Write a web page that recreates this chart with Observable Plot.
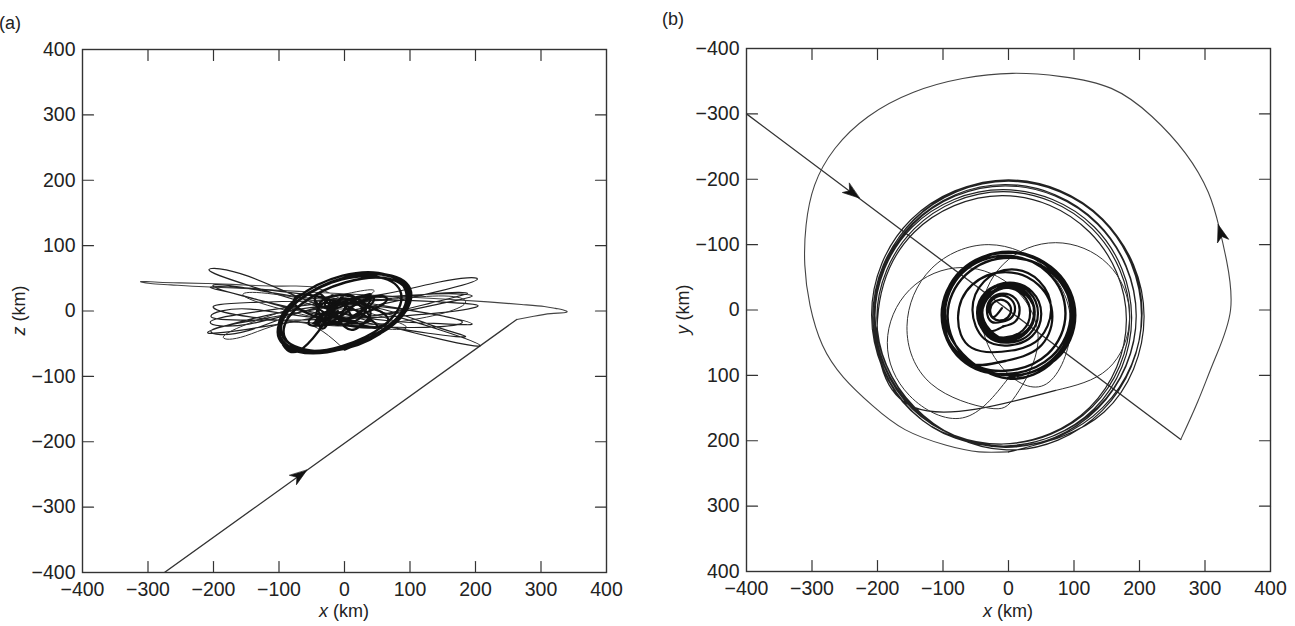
<!DOCTYPE html>
<html><head><meta charset="utf-8">
<script src="https://cdn.jsdelivr.net/npm/d3@7"></script>
<script src="https://cdn.jsdelivr.net/npm/@observablehq/plot@0.6"></script>
<style>
body{margin:0;background:#fff;font-family:"Liberation Sans",Arial,sans-serif;}
#wrap{position:relative;width:1295px;height:626px;overflow:hidden;}
.panel{position:absolute;top:0;}
</style></head><body>
<div id="wrap"><div class="panel" id="pa" style="left:0"></div><div class="panel" id="pb" style="left:640px"></div></div>
<script>
// ---- tick labels ----
const tickValues = [-400, -300, -200, -100, 0, 100, 200, 300, 400];
const innerTicks = [-300, -200, -100, 0, 100, 200, 300];

// ---- trajectory: [x, y, z] in km ----
const approach = [[-400,-300,-490],[263,198,-13]];
const bigArc = [[263,198,-13],[289,140,-8],[315,75,-4],[339,0,-2],[333,-75,2],[322,-125,4],[305,-180,7],[270,-240,10],[219,-296,14],[157,-339,18],[81,-357,22],[6,-362,26],[-70,-354,30],[-145,-333,34],[-214,-296,37],[-265,-247,40],[-296,-191,42],[-309,-130,44],[-311,-69,45],[-303,-7,45],[-284,54,44],[-252,103,43],[-208,146,42],[-158,183,40],[-95,207,38],[-45,217,36]];
const outerLoops = [
 [0,217,15],[146,156,-29],[207,10,-53],[146,-136,-43],[0,-197,-5],[-146,-136,39],[-207,10,63],[-146,156,53],
 [-5,208,-2],[136,149,-19],[195,8,-20],[136,-133,-5],[-5,-192,18],[-146,-133,35],[-205,8,36],[-146,149,21],
 [-5,210,-9],[136,151,9],[195,10,23],[136,-131,26],[-5,-190,15],[-146,-131,-3],[-205,10,-17],[-146,151,-20],
 [0,209,12],[144,149,14],[204,5,8],[144,-139,-3],[0,-199,-12],[-144,-139,-14],[-204,5,-8],[-144,149,3],
 [-8,208,-12],[131,151,12],[188,12,27],[131,-127,26],[-8,-184,8],[-147,-127,-16],[-204,12,-31],[-147,151,-30],
 [-8,205,10],[128,148,-20],[185,12,-39],[128,-124,-34],[-8,-181,-10],[-144,-124,20],[-201,12,39],[-144,148,34],
 [-3,214,18],[143,154,44],[203,8,49],[143,-138,30],[-3,-198,-2],[-149,-138,-28],[-209,8,-33],[-149,154,-14],
 [-10,205,9],[124,149,-3],[180,15,-17],[124,-119,-25],[-10,-175,-21],[-144,-119,-9],[-200,15,5],[-144,149,13]
];
const transLoops = [
 [72,123,18],[152,90,23],[185,10,14],[152,-70,-3],[72,-103,-18],[-8,-70,-23],[-41,10,-14],[-8,90,3],
 [58,113,-9],[95,25,-25],[58,-63,-27],[-30,-100,-13],[-118,-63,9],[-155,25,25],[-118,113,27],[-30,150,13],
 [11,131,11],[45,50,30],[11,-31,28],[-70,-65,7],[-151,-31,-21],[-185,50,-40],[-151,131,-38],[-70,165,-17]
];
const midRing = [
 [0,104,-59],[72,76,-23],[102,8,24],[72,-60,54],[0,-88,51],[-72,-60,15],[-102,8,-32],[-72,76,-62],
 [-3,98,-58],[66,71,-24],[95,5,22],[66,-61,55],[-3,-88,54],[-72,-61,20],[-101,5,-26],[-72,71,-59],
 [2,100,-54],[69,74,-21],[97,10,22],[69,-54,49],[2,-80,44],[-65,-54,11],[-93,10,-32],[-65,74,-59],
 [-5,93,-54],[60,67,-22],[87,5,21],[60,-57,50],[-5,-83,48],[-70,-57,16],[-97,5,-27],[-70,67,-56],
 [0,105,-58],[70,77,-23],[99,8,23],[70,-61,53],[0,-89,50],[-70,-61,16],[-99,8,-31],[-70,77,-61]
];
const innerLoops = [
 [-5,78,20],[46,58,4],[67,10,-14],[46,-38,-25],[-5,-58,-20],[-56,-38,-4],[-77,10,14],[-56,58,25],
 [5,62,12],[47,44,22],[65,0,18],[47,-44,4],[5,-62,-12],[-37,-44,-22],[-55,0,-18],[-37,44,-4],
 [2,54,-12],[36,40,-24],[50,6,-24],[36,-28,-10],[2,-42,8],[-32,-28,20],[-46,6,20],[-32,40,6],
 [0,50,14],[32,37,22],[45,5,18],[32,-27,3],[0,-40,-14],[-32,-27,-22],[-45,5,-18],[-32,37,-3],
 [-4,48,7],[27,35,22],[40,4,25],[27,-27,15],[-4,-40,-1],[-35,-27,-16],[-48,4,-19],[-35,35,-9],
 [-3,45,19],[27,33,5],[39,3,-11],[27,-27,-19],[-3,-39,-15],[-33,-27,-1],[-45,3,15],[-33,33,23],
 [0,43,-24],[28,31,-20],[40,3,-4],[28,-25,14],[0,-37,24],[-28,-25,20],[-40,3,4],[-28,31,-14],
 [0,46,-14],[28,34,3],[40,6,18],[28,-22,23],[0,-34,14],[-28,-22,-3],[-40,6,-18],[-28,34,-23],
 [-5,42,21],[22,31,17],[33,4,4],[22,-23,-12],[-5,-34,-21],[-32,-23,-17],[-43,4,-4],[-32,31,12]
];
const coreLoops = [
 [-8,25,10],[10,18,18],[17,0,15],[10,-18,4],[-8,-25,-10],[-26,-18,-18],[-33,0,-15],[-26,18,-4],
 [-10,18,14],[4,12,3],[10,-2,-8],[4,-16,-14],[-10,-22,-10],[-24,-16,1],[-30,-2,12],[-24,12,18],
 [-12,16,-8],[-1,11,2],[4,0,11],[-1,-11,13],[-12,-16,8],[-23,-11,-2],[-28,0,-11],[-23,11,-13],
 [-10,-3,0]
];
// arrowheads: position and heading
const arrowsXZ = [{x: -68, v: -251, dx: 1, dv: 0.72}];
const arrowsXY = [{x: -238, v: -179, dx: 1, dv: 0.75}, {x: 324, v: -118, dx: -0.3, dv: -1}];

const pieces = [
  {pts: approach, curve: "linear", w: 1.3, c: "#333"},
  {pts: bigArc, curve: "natural", w: 1.1, c: "#444"},
  {pts: outerLoops, curve: "natural", w: 1.2, c: "#222"},
  {pts: transLoops, curve: "natural", w: 1.0, c: "#333"},
  {pts: midRing, curve: "natural", w: 2.4, c: "#111"},
  {pts: innerLoops, curve: "natural", w: 2.2, c: "#111"},
  {pts: coreLoops, curve: "natural", w: 2.2, c: "#111"}
];
// each piece (after the arc) ends at the first point of the next one
const segments = pieces.map((p, i) => {
  const next = pieces[i + 1];
  const pts = (i >= 1 && next) ? [...p.pts, next.pts[0]] : p.pts;
  return {...p, pts};
});

const tickShape = {draw(ctx, l) { ctx.moveTo(0, 0); ctx.lineTo(0, -l); }};
const stealth = {draw(ctx, l) {
  ctx.moveTo(0, -l); ctx.lineTo(l * 0.34, 0); ctx.lineTo(0, -l * 0.28); ctx.lineTo(-l * 0.34, 0); ctx.closePath();
}};

function panel({el, width, ml, mr, mt, mb, vi, reverse, arrows, vname, tag, tagx, tagy, ylx}) {
  const height = 626;
  const kx = (width - ml - mr) / 800, ky = (height - mt - mb) / 800;
  const marks = [];
  for (const s of segments) {
    marks.push(Plot.line(s.pts, {x: d => d[0], y: d => d[vi], curve: s.curve, stroke: s.c, strokeWidth: s.w, strokeLinejoin: "round", clip: true}));
  }
  marks.push(Plot.vector(arrows, {
    x: "x", y: "v", length: 17, anchor: "middle", shape: stealth,
    rotate: d => Math.atan2(d.dx * kx, (reverse ? -d.dv : d.dv) * ky) * 180 / Math.PI,
    fill: "#111", stroke: "#111", strokeWidth: 0.6
  }));
  const tk = {stroke: "#333", strokeWidth: 1.2, length: 11, anchor: "start", shape: tickShape};
  marks.push(Plot.vector(innerTicks, {...tk, x: d => d, frameAnchor: "bottom", rotate: 0}));
  marks.push(Plot.vector(innerTicks, {...tk, x: d => d, frameAnchor: "top", rotate: 180}));
  marks.push(Plot.vector(innerTicks, {...tk, y: d => d, frameAnchor: "left", rotate: 90}));
  marks.push(Plot.vector(innerTicks, {...tk, y: d => d, frameAnchor: "right", rotate: -90}));
  marks.push(Plot.frame({stroke: "#333", strokeWidth: 1.4}));
  const svg = Plot.plot({
    width, height, marginLeft: ml, marginRight: mr, marginTop: mt, marginBottom: mb,
    style: {fontFamily: "'Liberation Sans', Arial, sans-serif", fontSize: "19.5px", color: "#222", background: "#fff", overflow: "visible"},
    x: {domain: [-400, 400], ticks: tickValues, tickSize: 0, tickPadding: 10, label: null},
    y: {domain: [-400, 400], reverse, ticks: tickValues, tickSize: 0, tickPadding: 7, label: null},
    marks
  });
  const s = d3.select(svg);
  const cx = ml + (width - ml - mr) / 2, cy = mt + (height - mt - mb) / 2;
  const xt = s.append("text").attr("x", cx).attr("y", 617).attr("text-anchor", "middle")
    .attr("font-size", 18).attr("fill", "#222");
  xt.append("tspan").attr("font-style", "italic").text("x");
  xt.append("tspan").text(" (km)");
  const yt = s.append("text").attr("transform", `translate(${ylx},${cy}) rotate(-90)`)
    .attr("text-anchor", "middle").attr("dy", "0.35em").attr("font-size", 18).attr("fill", "#222");
  yt.append("tspan").attr("font-style", "italic").text(vname);
  yt.append("tspan").text(" (km)");
  s.append("text").attr("x", tagx).attr("y", tagy).attr("font-size", 18).attr("fill", "#222").text(tag);
  document.getElementById(el).appendChild(svg);
}

panel({el: "pa", width: 640, ml: 82, mr: 34, mt: 49, mb: 54, vi: 2, reverse: false, arrows: arrowsXZ, vname: "z", tag: "(a)", tagx: 10, tagy: 29, ylx: 19});
panel({el: "pb", width: 655, ml: 106, mr: 25, mt: 48, mb: 55, vi: 1, reverse: true, arrows: arrowsXY, vname: "y", tag: "(b)", tagx: 33, tagy: 25, ylx: 43});
</script></body></html>
